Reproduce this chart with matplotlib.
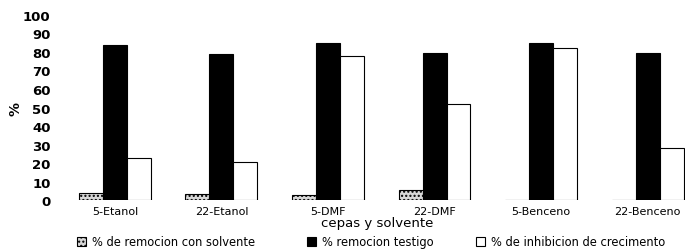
import matplotlib.pyplot as plt
import numpy as np

# % remocion y % inhibicion por cepa y solvente

cepas = ['5-Etanol', '22-Etanol', '5-DMF', '22-DMF', '5-Benceno', '22-Benceno']
remocion_solvente = [4, 3.5, 3, 5.5, 0, 0]
remocion_testigo = [84, 79, 85, 79.5, 85, 79.5]
inhibicion = [22.5, 20.5, 78, 52, 82, 28]

fig = plt.figure(figsize=(6.87, 2.53), dpi=100)
ax = fig.add_axes([0.102, 0.205, 0.895, 0.732])

x = np.arange(len(cepas))
w = 0.225
b1 = ax.bar(x - w, remocion_solvente, w, color='#d8d8d8', edgecolor='black', linewidth=0.8,
            hatch='....', label='% de remocion con solvente')
b2 = ax.bar(x, remocion_testigo, w, color='black', edgecolor='black', linewidth=0.8,
            label='% remocion testigo')
b3 = ax.bar(x + w, inhibicion, w, color='white', edgecolor='black', linewidth=0.8,
            label='% de inhibicion de crecimento')

ax.set_xlim(-0.42, 5.35)
ax.set_ylim(0, 100)
ax.set_yticks(range(0, 101, 10))
ax.set_xticks(x)
ax.set_xticklabels(cepas, fontsize=8)
for lab in ax.get_yticklabels():
    lab.set_fontsize(9.5)
    lab.set_fontweight('bold')
ax.tick_params(length=0, pad=14, axis='y')
ax.tick_params(length=0, pad=4, axis='x')
for s in ax.spines.values():
    s.set_visible(False)

ax.set_xlabel('cepas y solvente', fontsize=9.5, labelpad=0)
ax.set_ylabel('%', fontsize=10, fontweight='bold')
ax.yaxis.set_label_coords(-0.078, 0.5)

# legend entries placed one by one, like the original
leg_x = [0.112, 0.447, 0.693]
for handle, lx in zip([b1, b2, b3], leg_x):
    fig.legend([handle], [handle.get_label()], loc='center left',
               bbox_to_anchor=(lx, 0.04), frameon=False, fontsize=8.3,
               handlelength=0.8, handleheight=0.8, handletextpad=0.5,
               borderaxespad=0, borderpad=0)

fig.savefig('out.png', dpi=100)
